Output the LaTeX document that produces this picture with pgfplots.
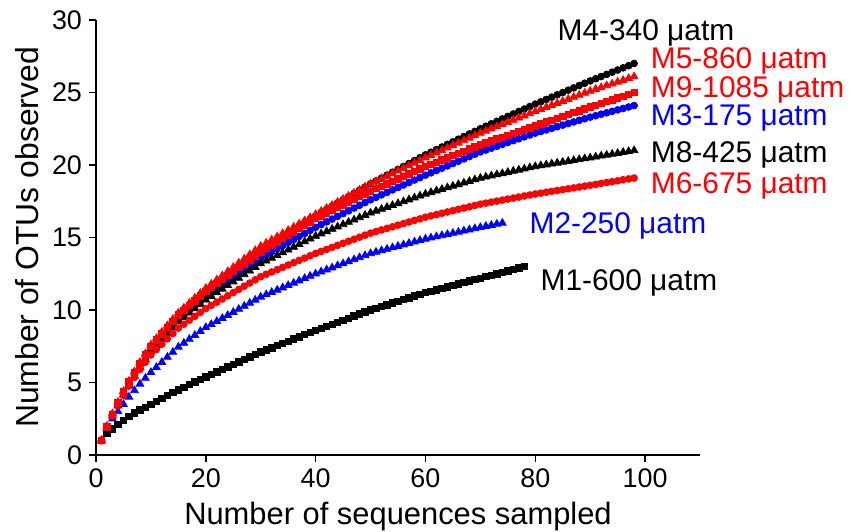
\documentclass[border=0pt]{standalone}
\usepackage{fontspec}
\setmainfont{Liberation Sans}
\usepackage{pgfplots}
\usepackage{pgfplotstable}
\pgfplotsset{compat=1.18}
\definecolor{rred}{RGB}{255,0,0}
\definecolor{bblue}{RGB}{0,0,255}

% OTUs observed vs. sequences sampled (rarefaction), one column per mesocosm
\pgfplotstableread{
n M4 M5 M9 M3 M8 M6 M2 M1
1 1.00 1.00 1.00 1.00 1.00 1.00 1.00 1.00
2 1.95 2.00 1.95 1.90 1.90 1.90 1.80 1.50
3 2.80 2.85 2.80 2.70 2.70 2.70 2.50 1.80
4 3.55 3.65 3.60 3.45 3.40 3.40 3.00 2.10
5 4.30 4.40 4.35 4.20 4.15 4.10 3.50 2.40
6 5.00 5.10 5.05 4.85 4.80 4.75 4.00 2.65
7 5.60 5.75 5.70 5.50 5.45 5.35 4.45 2.90
8 6.20 6.40 6.30 6.10 6.05 5.90 4.90 3.10
9 6.80 7.00 6.90 6.65 6.60 6.40 5.30 3.30
10 7.45 7.60 7.50 7.20 7.15 6.90 5.70 3.50
11 7.88 8.04 7.93 7.62 7.56 7.27 6.05 3.70
12 8.31 8.48 8.36 8.04 7.97 7.64 6.40 3.90
13 8.74 8.92 8.79 8.46 8.38 8.01 6.75 4.10
14 9.17 9.36 9.22 8.88 8.79 8.38 7.10 4.30
15 9.60 9.80 9.65 9.30 9.20 8.75 7.45 4.50
16 9.92 10.14 9.98 9.62 9.50 9.02 7.72 4.68
17 10.24 10.48 10.31 9.94 9.80 9.29 7.99 4.86
18 10.56 10.82 10.64 10.26 10.10 9.56 8.26 5.04
19 10.88 11.16 10.97 10.58 10.40 9.83 8.53 5.22
20 11.20 11.50 11.30 10.90 10.70 10.10 8.80 5.40
21 11.49 11.79 11.57 11.17 10.95 10.32 9.01 5.57
22 11.78 12.08 11.84 11.44 11.20 10.54 9.22 5.74
23 12.07 12.37 12.11 11.71 11.45 10.76 9.43 5.91
24 12.36 12.66 12.38 11.98 11.70 10.98 9.64 6.08
25 12.65 12.95 12.65 12.25 11.95 11.20 9.85 6.25
26 12.94 13.24 12.92 12.52 12.20 11.42 10.06 6.42
27 13.23 13.53 13.19 12.79 12.45 11.64 10.27 6.59
28 13.52 13.82 13.46 13.06 12.70 11.86 10.48 6.76
29 13.81 14.11 13.73 13.33 12.95 12.08 10.69 6.93
30 14.10 14.40 14.00 13.60 13.20 12.30 10.90 7.10
31 14.34 14.62 14.23 13.81 13.39 12.46 11.06 7.25
32 14.58 14.84 14.46 14.02 13.58 12.62 11.22 7.40
33 14.82 15.06 14.69 14.23 13.77 12.78 11.38 7.55
34 15.06 15.28 14.92 14.44 13.96 12.94 11.54 7.70
35 15.30 15.50 15.15 14.65 14.15 13.10 11.70 7.85
36 15.54 15.72 15.38 14.86 14.34 13.26 11.86 8.00
37 15.78 15.94 15.61 15.07 14.53 13.42 12.02 8.15
38 16.02 16.16 15.84 15.28 14.72 13.58 12.18 8.30
39 16.26 16.38 16.07 15.49 14.91 13.74 12.34 8.45
40 16.50 16.60 16.30 15.70 15.10 13.90 12.50 8.60
41 16.72 16.81 16.49 15.89 15.26 14.04 12.64 8.74
42 16.94 17.02 16.68 16.08 15.42 14.18 12.78 8.88
43 17.16 17.23 16.87 16.27 15.58 14.32 12.92 9.02
44 17.38 17.44 17.06 16.46 15.74 14.46 13.06 9.16
45 17.60 17.65 17.25 16.65 15.90 14.60 13.20 9.30
46 17.82 17.86 17.44 16.84 16.06 14.74 13.34 9.44
47 18.04 18.07 17.63 17.03 16.22 14.88 13.48 9.58
48 18.26 18.28 17.82 17.22 16.38 15.02 13.62 9.72
49 18.48 18.49 18.01 17.41 16.54 15.16 13.76 9.86
50 18.70 18.70 18.20 17.60 16.70 15.30 13.90 10.00
51 18.90 18.88 18.37 17.77 16.83 15.41 14.00 10.12
52 19.10 19.06 18.54 17.94 16.96 15.52 14.10 10.24
53 19.30 19.24 18.71 18.11 17.09 15.63 14.20 10.36
54 19.50 19.42 18.88 18.28 17.22 15.74 14.30 10.48
55 19.70 19.60 19.05 18.45 17.35 15.85 14.40 10.60
56 19.90 19.78 19.22 18.62 17.48 15.96 14.50 10.72
57 20.10 19.96 19.39 18.79 17.61 16.07 14.60 10.84
58 20.30 20.14 19.56 18.96 17.74 16.18 14.70 10.96
59 20.50 20.32 19.73 19.13 17.87 16.29 14.80 11.08
60 20.70 20.50 19.90 19.30 18.00 16.40 14.90 11.20
61 20.88 20.67 20.05 19.46 18.11 16.49 14.98 11.30
62 21.06 20.84 20.20 19.62 18.22 16.58 15.06 11.40
63 21.24 21.01 20.35 19.78 18.33 16.67 15.14 11.50
64 21.42 21.18 20.50 19.94 18.44 16.76 15.22 11.60
65 21.60 21.35 20.65 20.10 18.55 16.85 15.30 11.70
66 21.78 21.52 20.80 20.26 18.66 16.94 15.38 11.80
67 21.96 21.69 20.95 20.42 18.77 17.03 15.46 11.90
68 22.14 21.86 21.10 20.58 18.88 17.12 15.54 12.00
69 22.32 22.03 21.25 20.74 18.99 17.21 15.62 12.10
70 22.50 22.20 21.40 20.90 19.10 17.30 15.70 12.20
71 22.67 22.35 21.53 21.03 19.18 17.37 15.78 12.30
72 22.84 22.50 21.66 21.16 19.26 17.44 15.85 12.40
73 23.01 22.65 21.79 21.29 19.34 17.51 15.93 12.50
74 23.18 22.80 21.92 21.42 19.42 17.58 16.00 12.60
75 23.35 22.95 22.05 21.55 19.50 17.65 nan 12.70
76 23.52 23.10 22.18 21.68 19.58 17.72 nan 12.80
77 23.69 23.25 22.31 21.81 19.66 17.79 nan 12.90
78 23.86 23.40 22.44 21.94 19.74 17.86 nan 13.00
79 24.03 23.55 22.57 22.07 19.82 17.93 nan nan
80 24.20 23.70 22.70 22.20 19.90 18.00 nan nan
81 24.36 23.84 22.83 22.31 19.96 18.06 nan nan
82 24.52 23.98 22.96 22.42 20.02 18.12 nan nan
83 24.68 24.12 23.09 22.53 20.08 18.18 nan nan
84 24.84 24.26 23.22 22.64 20.14 18.24 nan nan
85 25.00 24.40 23.35 22.75 20.20 18.30 nan nan
86 25.16 24.54 23.48 22.86 20.26 18.36 nan nan
87 25.32 24.68 23.61 22.97 20.32 18.42 nan nan
88 25.48 24.82 23.74 23.08 20.38 18.48 nan nan
89 25.64 24.96 23.87 23.19 20.44 18.54 nan nan
90 25.80 25.10 24.00 23.30 20.50 18.60 nan nan
91 25.95 25.23 24.13 23.40 20.56 18.66 nan nan
92 26.10 25.35 24.25 23.50 20.63 18.73 nan nan
93 26.25 25.48 24.38 23.60 20.69 18.79 nan nan
94 26.40 25.60 24.50 23.70 20.75 18.85 nan nan
95 26.55 25.73 24.63 23.80 20.81 18.91 nan nan
96 26.70 25.85 24.75 23.90 20.88 18.98 nan nan
97 26.85 25.98 24.88 24.00 20.94 19.04 nan nan
98 27.00 26.10 25.00 24.10 21.00 19.10 nan nan
}\otus

\begin{document}
\begin{tikzpicture}
\begin{axis}[
    scale only axis,
    width=302bp, height=217.5bp,
    xmin=0, xmax=110, ymin=0, ymax=30,
    axis lines*=left,
    axis line style={line width=0.75bp},
    xtick={0,20,...,100},
    ytick={0,5,...,30},
    tick align=outside,
    major tick length=3.5bp,
    tick style={black, line width=0.75bp},
    /pgf/number format/assume math mode=true,
    ticklabel style={font=\fontsize{13.5}{13.5}\selectfont},
    xlabel style={font=\fontsize{15.5}{15.5}\selectfont},
    ylabel style={font=\fontsize{16}{16}\selectfont},
    xlabel={Number of sequences sampled},
    ylabel={Number of OTUs observed},
    clip=false,
    only marks,
]
\coordinate (bl) at (rel axis cs:0,0);
\addplot[black, mark=square*, mark size=1.6bp] table[x=n, y=M1] {\otus};
\addplot[bblue, mark=triangle*, mark size=2.2bp] table[x=n, y=M2] {\otus};
\addplot[bblue, mark=*, mark size=1.7bp] table[x=n, y=M3] {\otus};
\addplot[black, mark=triangle*, mark size=2.2bp] table[x=n, y=M8] {\otus};
\addplot[black, mark=*, mark size=1.7bp] table[x=n, y=M4] {\otus};
\addplot[rred, mark=triangle*, mark size=2.2bp] table[x=n, y=M5] {\otus};
\addplot[rred, mark=square*, mark size=1.6bp] table[x=n, y=M9] {\otus};
\addplot[rred, mark=*, mark size=1.7bp] table[x=n, y=M6] {\otus};

\begin{scope}[every node/.style={anchor=west, inner sep=0pt, font=\fontsize{15}{15}\selectfont}]
\node[text=black] at (axis cs:84,29.1) {M4-340 μatm};
\node[text=rred] at (axis cs:101,27.15) {M5-860 μatm};
\node[text=rred] at (axis cs:101,25.2) {M9-1085 μatm};
\node[text=bblue] at (axis cs:101,23.25) {M3-175 μatm};
\node[text=black] at (axis cs:101,20.7) {M8-425 μatm};
\node[text=rred] at (axis cs:101,18.55) {M6-675 μatm};
\node[text=bblue] at (axis cs:78.9,15.8) {M2-250 μatm};
\node[text=black] at (axis cs:80.9,11.9) {M1-600 μatm};
\end{scope}
\end{axis}
\pgfresetboundingbox
\path ([shift={(-48bp,-38.5bp)}]bl) rectangle ([shift={(379bp,227.5bp)}]bl);
\end{tikzpicture}
\end{document}
